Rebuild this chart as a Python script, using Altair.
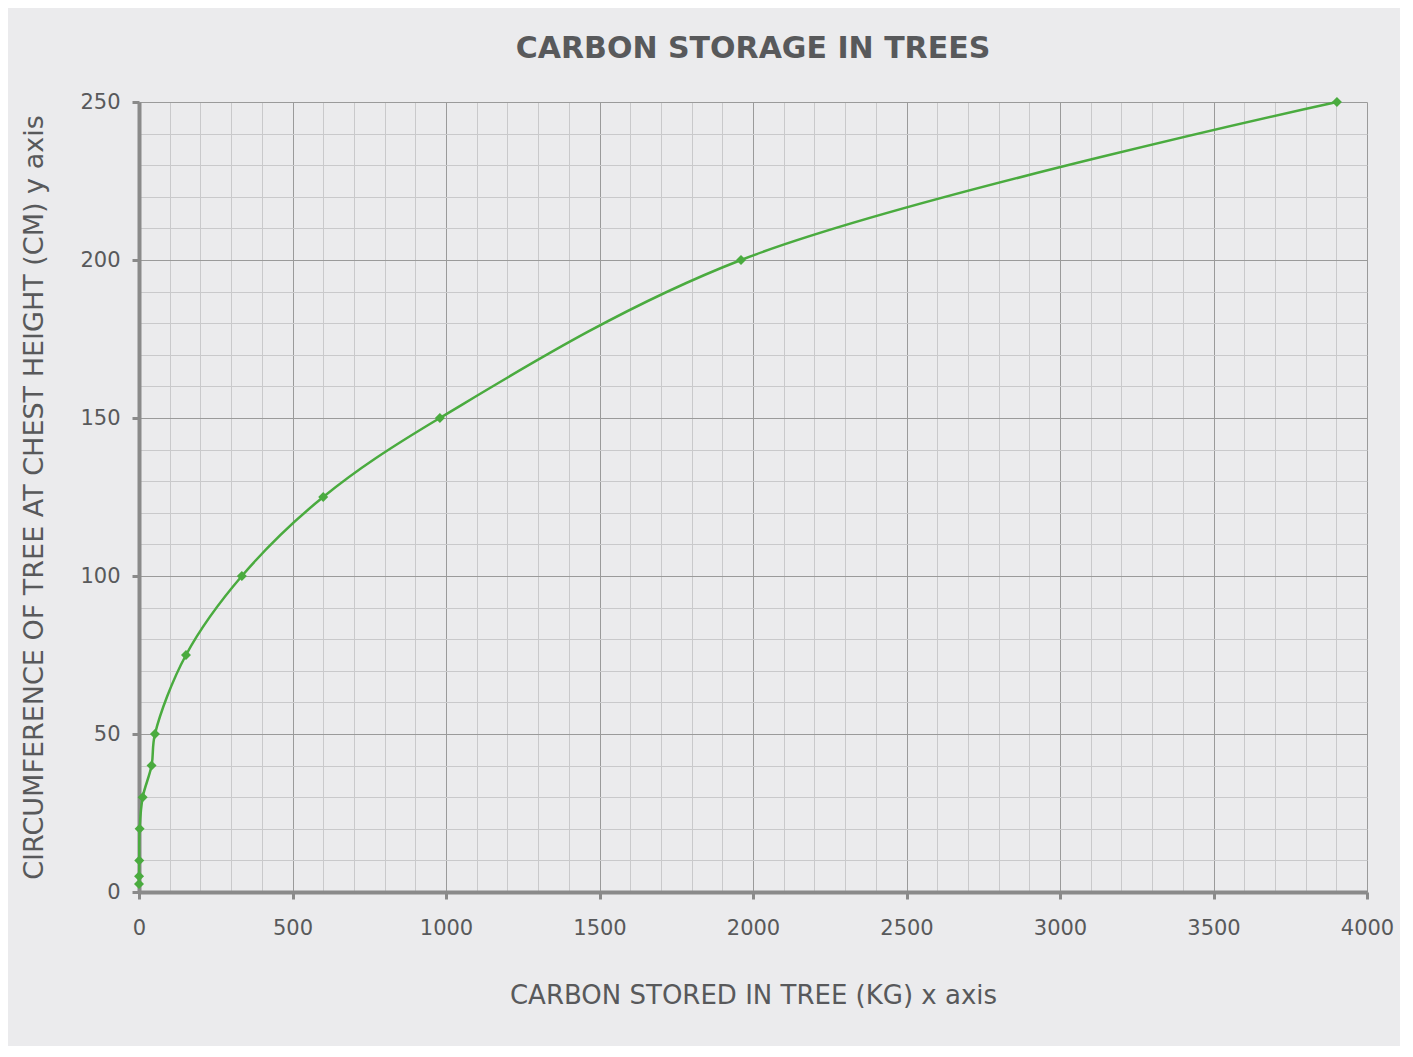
import altair as alt
import pandas as pd

carbon_kg = [0.1, 0.3, 0.8, 2, 12, 41, 52, 153, 335, 600, 980, 1961, 3902]
circumference_cm = [2.5, 5, 10, 20, 30, 40, 50, 75, 100, 125, 150, 200, 250]

df = pd.DataFrame({"carbon": carbon_kg, "circ": circumference_cm})

TXT = "#58595b"
FONT = "DejaVu Sans"

x_axis = alt.Axis(
    values=list(range(0, 4001, 100)),
    labelExpr="datum.value % 500 === 0 ? datum.label : ''",
    labelFlush=False,
    gridColor=alt.condition("datum.value % 500 === 0", alt.value("#9a9a9a"), alt.value("#c9c9cb")),
    tickOpacity=alt.condition("datum.value % 500 === 0", alt.value(1), alt.value(0)),
    tickColor="#8a8a8a", tickWidth=3, tickSize=7,
    domainColor="#8a8a8a", domainWidth=4,
    labelFont=FONT, labelFontSize=21, labelColor=TXT, labelPadding=18,
    title="CARBON STORED IN TREE (KG) x axis",
    titleFont=FONT, titleFontSize=26, titleFontWeight="normal", titleColor=TXT, titlePadding=44,
    format="d",
)
y_axis = alt.Axis(
    values=list(range(0, 251, 10)),
    labelExpr="datum.value % 50 === 0 ? datum.label : ''",
    labelFlush=False,
    gridColor=alt.condition("datum.value % 50 === 0", alt.value("#9a9a9a"), alt.value("#c9c9cb")),
    tickOpacity=alt.condition("datum.value % 50 === 0", alt.value(1), alt.value(0)),
    tickColor="#8a8a8a", tickWidth=3, tickSize=7,
    domainColor="#8a8a8a", domainWidth=4,
    labelFont=FONT, labelFontSize=21, labelColor=TXT, labelPadding=12,
    title="CIRCUMFERENCE OF TREE AT CHEST HEIGHT (CM) y axis",
    titleFont=FONT, titleFontSize=27, titleFontWeight="normal", titleColor=TXT, titlePadding=31,
)

base = alt.Chart(df).encode(
    x=alt.X("carbon:Q", scale=alt.Scale(domain=[0, 4000], nice=False), axis=x_axis),
    y=alt.Y("circ:Q", scale=alt.Scale(domain=[0, 250], nice=False), axis=y_axis),
    order="circ:Q",
)

line = base.mark_line(color="#4aab3f", strokeWidth=2.5, interpolate="catmull-rom")
pts = base.mark_point(shape="diamond", filled=True, color="#4aab3f", size=100, opacity=1)

chart = (line + pts).properties(
    width=1228, height=790,
    title=alt.TitleParams("CARBON STORAGE IN TREES", font=FONT, fontSize=30, fontWeight="bold",
                          color=TXT, offset=27, anchor="middle"),
    background="#ebebed",
    padding={"left": 12, "top": 26, "right": 6, "bottom": 38},
).configure_view(stroke=None)

chart.save("out.html", embed_options={"renderer": "svg", "actions": False})
